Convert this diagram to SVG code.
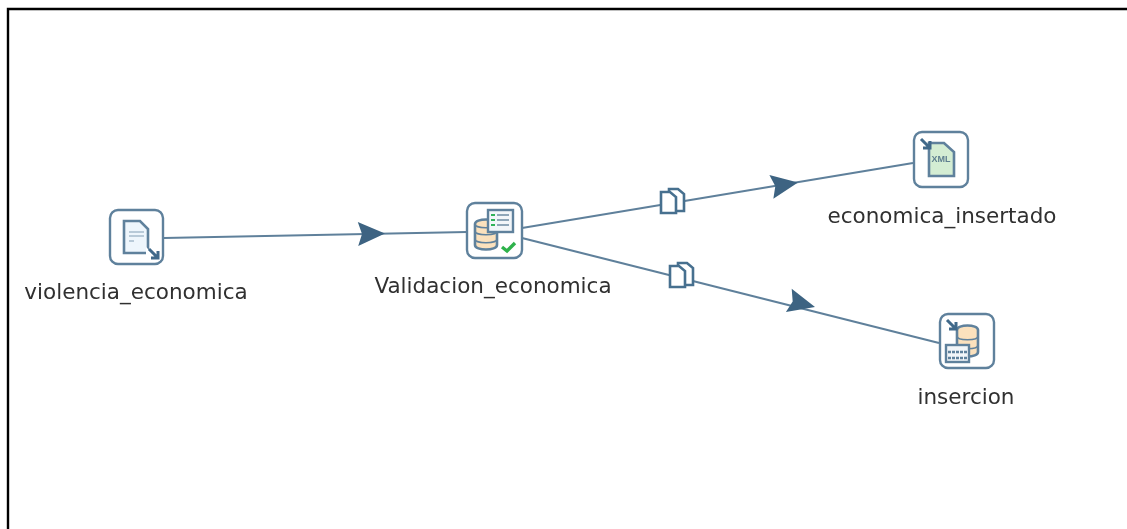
<svg xmlns="http://www.w3.org/2000/svg" xmlns:xlink="http://www.w3.org/1999/xlink" width="1127" height="529" viewBox="0 0 1127 529">
<style>
.lbl{font-family:"DejaVu Sans","Liberation Sans",sans-serif;font-size:21.5px;fill:#303030;text-anchor:middle}
.box{fill:#fff;stroke:#5f819c;stroke-width:2.4}
.edge{fill:none;stroke:#5f809b;stroke-width:2.2}
.head{fill:#3d6482}
.copy{fill:#fff;stroke:#47708f;stroke-width:2.6}
.doc{stroke:#5f819c;stroke-width:2.6}
.db{fill:#fbe1bd;stroke:#5f819c;stroke-width:2.6}
.ar{fill:none;stroke:#41698a;stroke-width:3}
</style>
<defs>
<filter id="soft" x="-10%" y="-10%" width="120%" height="120%"><feGaussianBlur stdDeviation="0.4"/></filter>
<polygon id="ah" class="head" points="0,0 -27,-12 -23,0 -27,12"/>
<g id="cp">
<path class="copy" d="M9 1H18L24 6V23H9Z"/>
<path class="copy" d="M1 4H10L16 9V25H1Z"/>
</g>
</defs>
<rect width="1127" height="529" fill="#fff"/>
<path d="M8 529V9H1127" fill="none" stroke="#000" stroke-width="2.4"/>
<g id="connectors" filter="url(#soft)">
<path class="edge" d="M164 238L467 232"/>
<use xlink:href="#ah" href="#ah" transform="translate(385 233.5) rotate(-1)"/>
<path class="edge" d="M522 228L913 163"/>
<use xlink:href="#ah" href="#ah" transform="translate(798 182.5) rotate(-9.5)"/>
<use xlink:href="#cp" href="#cp" transform="translate(660 188)"/>
<path class="edge" d="M522 238L939 343"/>
<use xlink:href="#ah" href="#ah" transform="translate(815 307) rotate(14)"/>
<use xlink:href="#cp" href="#cp" transform="translate(669 262)"/>
</g>
<g id="violencia_economica">
<g filter="url(#soft)">
<rect class="box" x="110" y="210" width="53" height="54" rx="8"/>
<path class="doc" fill="#eef6fc" d="M124 221H140L148 229V253H124Z"/>
<path d="M129 232H144M129 236H144M129 241H134" stroke="#a7bccb" stroke-width="1.5"/>
<path d="M146 247L160 261H146Z" fill="#fff"/>
<path class="ar" d="M149 249L158 258M158 251V258H151"/>
</g>
<text class="lbl" x="136" y="299">violencia_economica</text>
</g>
<g id="Validacion_economica">
<g filter="url(#soft)">
<rect class="box" x="467" y="203" width="55" height="55" rx="8"/>
<path class="db" d="M475 224C475 218 497 218 497 224V245C497 251 475 251 475 245Z"/>
<path d="M475 224C475 229 497 229 497 224M475 231C475 236 497 236 497 231M475 239C475 244 497 244 497 239" fill="none" stroke="#5f819c" stroke-width="1.5"/>
<rect x="488" y="210" width="25" height="22" fill="#f2f6f9" stroke="#5f819c" stroke-width="2.4"/>
<path d="M491 215H495M491 220H495M491 225H495" stroke="#33b35a" stroke-width="2"/>
<path d="M497 215H509M497 220H509M497 225H509" stroke="#8ea6b8" stroke-width="2"/>
<path d="M502 247L507 251L515 243" fill="none" stroke="#2fb24c" stroke-width="3.4"/>
</g>
<text class="lbl" x="493" y="293">Validacion_economica</text>
</g>
<g id="economica_insertado">
<g filter="url(#soft)">
<rect class="box" x="914" y="132" width="54" height="55" rx="8"/>
<path class="doc" fill="#d4edd3" d="M929 143H944L954 152V176H929Z"/>
<text x="941" y="162" font-family="'Liberation Sans',sans-serif" font-size="9" font-weight="bold" fill="#5f7f8f" text-anchor="middle">XML</text>
<path class="ar" d="M921 139L930 148M930 141V148H923"/>
</g>
<text class="lbl" x="942" y="223">economica_insertado</text>
</g>
<g id="insercion">
<g filter="url(#soft)">
<rect class="box" x="940" y="314" width="54" height="54" rx="8"/>
<path class="db" d="M957 330C957 324 978 324 978 330V352C978 358 957 358 957 352Z"/>
<path d="M957 336C957 341 978 341 978 336M957 345C957 350 978 350 978 345" fill="none" stroke="#5f819c" stroke-width="1.5"/>
<rect x="946" y="345" width="23" height="17" fill="#f2f6f9" stroke="#5f819c" stroke-width="2.4"/>
<path d="M948 352H967M948 358H967" stroke="#5f819c" stroke-width="2.4" stroke-dasharray="3 1"/>
<path class="ar" d="M947 320L956 329M956 322V329H949"/>
</g>
<text class="lbl" x="966" y="404">insercion</text>
</g>
</svg>
